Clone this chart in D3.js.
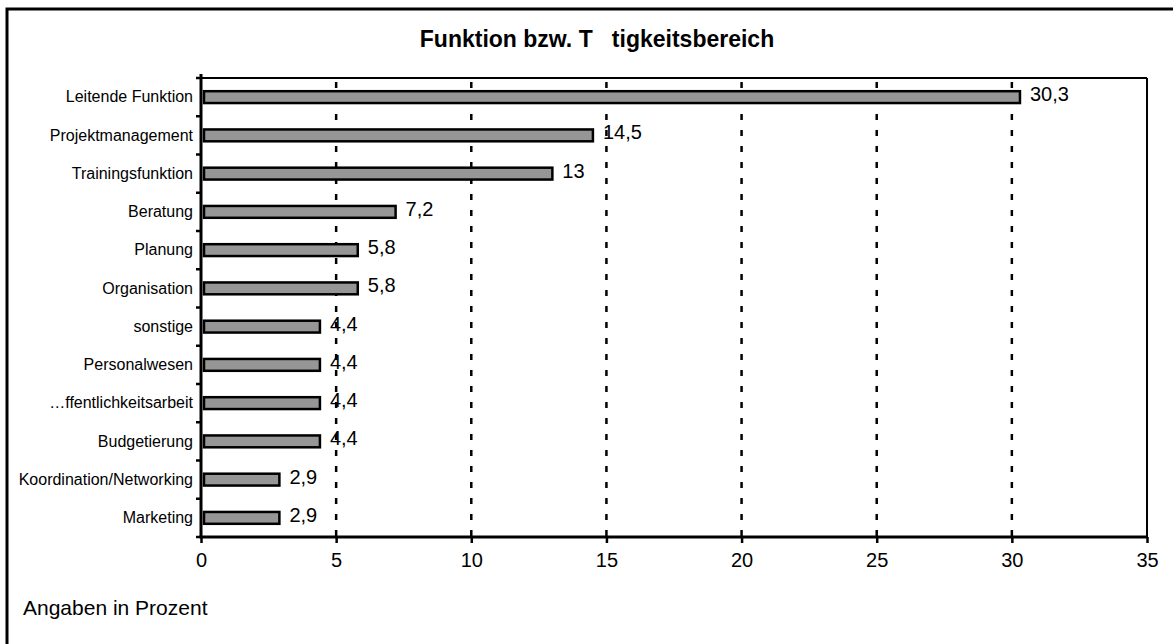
<!DOCTYPE html>
<html><head><meta charset="utf-8">
<script src="https://cdn.jsdelivr.net/npm/d3@7"></script>
<style>body{margin:0;background:#fff;overflow:hidden}svg{display:block;font-family:"Liberation Sans",Arial,sans-serif}</style>
</head><body>
<svg id="c" width="1173" height="644"></svg>
<script>
const categories = ["Leitende Funktion","Projektmanagement","Trainingsfunktion","Beratung","Planung","Organisation","sonstige","Personalwesen","\u2026ffentlichkeitsarbeit","Budgetierung","Koordination/Networking","Marketing"];
const values = [30.3,14.5,13,7.2,5.8,5.8,4.4,4.4,4.4,4.4,2.9,2.9];
const valueLabels = ["30,3","14,5","13","7,2","5,8","5,8","4,4","4,4","4,4","4,4","2,9","2,9"];
const xTicks = [0,5,10,15,20,25,30,35];
const gridTicks = [5,10,15,20,25,30];
const title = "Funktion bzw. T   tigkeitsbereich";
const note = "Angaben in Prozent";

const svg = d3.select("#c");
const L = 201, R = 1147, T = 78, B = 537;
const x = d3.scaleLinear().domain([0,35]).range([L,R]);
const y = d3.scaleBand().domain(categories).range([T,B]).paddingInner(0.69).paddingOuter(0.345);

// outer frame (top and left visible)
svg.append("path").attr("d","M7,660 L7,9 L1180,9")
  .attr("fill","none").attr("stroke","#000").attr("stroke-width",3);

// title
svg.append("text").attr("x",597).attr("y",47).attr("text-anchor","middle")
  .attr("font-size",23).attr("font-weight","bold").style("white-space","pre")
  .attr("xml:space","preserve").text(title);

// plot frame top/right
svg.append("line").attr("x1",L).attr("x2",R).attr("y1",T).attr("y2",T).attr("stroke","#000").attr("stroke-width",2);
svg.append("line").attr("x1",R).attr("x2",R).attr("y1",T).attr("y2",B).attr("stroke","#000").attr("stroke-width",2);

// gridlines
svg.append("g").selectAll("line").data(gridTicks).join("line")
  .attr("x1",d=>x(d)).attr("x2",d=>x(d)).attr("y1",T).attr("y2",B)
  .attr("stroke","#000").attr("stroke-width",2.5).attr("stroke-dasharray","6,10").attr("stroke-dashoffset",-4);

// bars
svg.append("g").selectAll("rect").data(values).join("rect")
  .attr("x",x(0)+3).attr("y",(d,i)=>y(categories[i]))
  .attr("width",d=>x(d)-x(0)-3).attr("height",y.bandwidth())
  .attr("fill","#969696").attr("stroke","#000").attr("stroke-width",2.5);

// value labels
svg.append("g").selectAll("text").data(values).join("text")
  .attr("x",d=>x(d)+10).attr("y",(d,i)=>y(categories[i])+y.bandwidth()/2+4)
  .attr("font-size",20).text((d,i)=>valueLabels[i]);

// left axis
const yAxis = d3.axisLeft(y).tickSize(0).tickPadding(8);
const gy = svg.append("g").attr("transform",`translate(${L},0)`).call(yAxis);
gy.select(".domain").remove();
gy.selectAll("text").attr("font-size",16).attr("font-family","Liberation Sans, Arial, sans-serif").attr("fill","#000");
svg.append("line").attr("x1",L).attr("x2",L).attr("y1",T-4).attr("y2",B).attr("stroke","#000").attr("stroke-width",3);
const bounds = d3.range(categories.length+1).map(i=>T+i*(B-T)/categories.length);
svg.append("g").selectAll("line").data(bounds).join("line")
  .attr("x1",L-5).attr("x2",L).attr("y1",d=>d).attr("y2",d=>d).attr("stroke","#000").attr("stroke-width",2.5);

// bottom axis
const xAxis = d3.axisBottom(x).tickValues(xTicks).tickSize(6).tickPadding(10).tickFormat(d3.format("d"));
const gx = svg.append("g").attr("transform",`translate(0,${B})`).call(xAxis);
gx.select(".domain").remove();
gx.selectAll(".tick line").attr("stroke","#000").attr("stroke-width",2.5);
gx.selectAll("text").attr("font-size",20).attr("font-family","Liberation Sans, Arial, sans-serif").attr("fill","#000");
svg.append("line").attr("x1",L-1.5).attr("x2",R+1).attr("y1",B).attr("y2",B).attr("stroke","#000").attr("stroke-width",3);

// note
svg.append("text").attr("x",23).attr("y",615).attr("font-size",21).text(note);
</script>
</body></html>
